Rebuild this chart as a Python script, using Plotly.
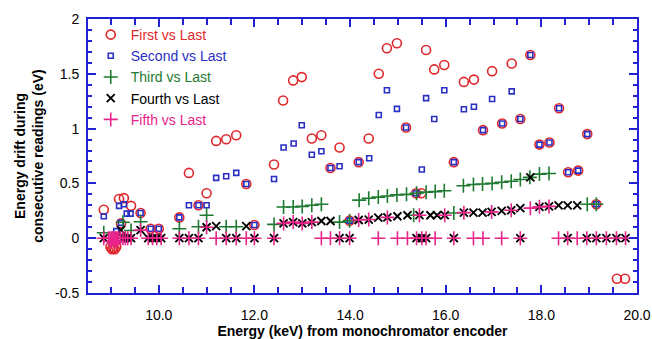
import plotly.graph_objects as go

# ---------------- data ----------------
first_x = [8.85, 8.99, 9.02, 9.05, 9.08, 9.11, 9.17, 9.21, 9.27, 9.42, 9.62, 9.83, 10.0,
           10.43, 10.63, 10.83, 11.0, 11.2, 11.41, 11.62, 11.83, 12.0, 12.41, 12.6, 12.81,
           12.99, 13.2, 13.4, 13.59, 13.78, 13.99, 14.18, 14.39, 14.6, 14.77, 14.98, 15.17,
           15.38, 15.49, 15.59, 15.76, 15.97, 16.17, 16.38, 16.59, 16.78, 16.97, 17.18, 17.38,
           17.56, 17.77, 17.96, 18.17, 18.37, 18.56, 18.77, 18.96, 19.15, 19.58, 19.75]
first_y = [0.26, -0.08, -0.1, -0.09, -0.1, -0.08, 0.357, 0.135, 0.366, 0.295, 0.23, 0.086, 0.086,
           0.19, 0.596, 0.30, 0.41, 0.888, 0.903, 0.94, 0.495, 0.12, 0.673, 1.256, 1.44,
           1.47, 0.91, 0.94, 0.64, 0.827, 0.16, 0.694, 0.91, 1.5, 1.733, 1.779, 1.01,
           0.41, 0.41, 1.717, 1.54, 1.58, 0.694, 1.426, 1.447, 0.986, 1.524, 1.047, 1.594,
           1.087, 1.671, 0.854, 0.873, 1.186, 0.602, 0.617, 0.95, 0.31, -0.37, -0.37]

second_x = [8.85, 9.11, 9.17, 9.21, 9.27, 9.33, 9.41, 9.62, 9.83, 10.0, 10.43, 10.63, 10.83,
            11.0, 11.2, 11.41, 11.62, 11.83, 12.0, 12.41, 12.61, 12.82, 12.99, 13.2, 13.4,
            13.59, 13.78, 13.99, 14.18, 14.4, 14.6, 14.77, 14.98, 15.17, 15.38, 15.5, 15.59,
            15.76, 15.97, 16.17, 16.38, 16.59, 16.78, 16.97, 17.18, 17.38, 17.56, 17.77, 17.96,
            18.17, 18.37, 18.56, 18.77, 18.96, 19.15]
second_y = [0.2, 0.065, 0.295, 0.14, 0.31, 0.224, 0.224, 0.23, 0.086, 0.086, 0.19, 0.30, 0.30,
            0.30, 0.55, 0.565, 0.596, 0.495, 0.12, 0.54, 0.827, 0.864, 1.03, 0.762, 0.793,
            0.64, 0.657, 0.16, 0.694, 0.73, 1.124, 1.35, 1.18, 1.01, 0.41, 0.627, 1.278,
            1.087, 1.35, 0.694, 1.177, 1.2, 0.986, 1.27, 1.047, 1.34, 1.087, 1.671, 0.854,
            0.873, 1.186, 0.602, 0.617, 0.95, 0.31]

third_x = [8.85, 9.25, 9.42, 9.62, 10.43, 10.83, 11.0, 11.41, 11.62, 12.41, 12.61, 12.81,
           13.0, 13.2, 13.4, 13.78, 13.99, 14.19, 14.39, 14.59, 14.78, 14.98, 15.18, 15.33,
           15.39, 15.59, 15.78, 15.97, 16.17, 16.37, 16.58, 16.77, 16.97, 17.17, 17.37,
           17.56, 17.76, 17.96, 18.16, 18.96, 19.15]
third_y = [0.05, 0.145, 0.07, 0.15, 0.086, 0.105, 0.21, 0.105, 0.105, 0.126, 0.285, 0.285,
           0.29, 0.30, 0.31, 0.147, 0.16, 0.347, 0.365, 0.375, 0.385, 0.395, 0.40, 0.21,
           0.41, 0.42, 0.425, 0.433, 0.23, 0.479, 0.49, 0.495, 0.50, 0.51, 0.52,
           0.535, 0.555, 0.585, 0.59, 0.31, 0.31]

fourth_x = [8.85, 9.21, 9.25, 9.3, 9.35, 9.42, 9.62, 9.78, 9.87, 9.96, 10.05, 10.43, 10.63,
            10.83, 11.0, 11.2, 11.41, 11.62, 11.83, 12.0, 12.41, 12.61, 12.81, 13.0, 13.2,
            13.4, 13.59, 13.78, 13.99, 14.18, 14.39, 14.59, 14.78, 14.99, 15.2, 15.39, 15.45,
            15.5, 15.59, 15.68, 15.82, 15.98, 16.17, 16.38, 16.58, 16.77, 16.96, 17.17, 17.37,
            17.56, 17.56, 17.77, 17.96, 18.16, 18.36, 18.55, 18.55, 18.75, 18.95, 19.15,
            19.36, 19.57, 19.76]
fourth_y = [0.0, 0.074, 0.0, 0.0, 0.0, 0.0, 0.074, 0.0, 0.0, 0.0, 0.0, 0.0, 0.0,
            0.0, 0.10, 0.11, 0.0, 0.0, 0.11, 0.0, 0.0, 0.135, 0.147, 0.135, 0.147,
            0.157, 0.157, 0.0, 0.0, 0.166, 0.17, 0.187, 0.19, 0.20, 0.209, 0.0, 0.21,
            0.0, 0.0, 0.209, 0.209, 0.21, 0.0, 0.233, 0.233, 0.233, 0.24, 0.25, 0.255,
            0.274, 0.0, 0.555, 0.286, 0.29, 0.30, 0.30, 0.0, 0.30, 0.0, 0.0,
            0.0, 0.0, 0.0]

fifth_x = [8.85, 8.95, 8.98, 9.0, 9.01, 9.04, 9.06, 9.07, 9.1, 9.12, 9.13, 9.16, 9.2, 9.25,
           9.3, 9.35, 9.42, 9.62, 9.78, 9.87, 9.96, 10.05, 10.43, 10.63, 10.83, 11.0, 11.2,
           11.41, 11.62, 11.83, 12.0, 12.41, 12.61, 12.81, 13.0, 13.2, 13.4, 13.59, 13.78,
           13.99, 14.18, 14.39, 14.59, 14.78, 14.99, 15.2, 15.39, 15.45, 15.5, 15.59, 15.78,
           15.98, 16.17, 16.38, 16.58, 16.78, 16.96, 17.17, 17.37, 17.56, 17.77, 17.96,
           18.16, 18.36, 18.55, 18.75, 18.95, 19.15, 19.36, 19.57, 19.76]
fifth_y = [0.0, 0.0, 0.0, -0.03, 0.0, 0.0, -0.03, 0.0, 0.0, -0.03, 0.0, 0.0, 0.0, 0.0,
           0.0, 0.0, 0.0, 0.074, 0.0, 0.0, 0.0, 0.0, 0.0, 0.0, 0.0, 0.10, 0.0,
           0.0, 0.0, 0.0, 0.0, 0.0, 0.135, 0.147, 0.135, 0.147, 0.0, 0.0, 0.0,
           0.0, 0.166, 0.17, 0.0, 0.19, 0.0, 0.0, 0.0, 0.21, 0.0, 0.0, 0.0,
           0.21, 0.0, 0.233, 0.0, 0.0, 0.24, 0.0, 0.255, 0.0, 0.274, 0.286,
           0.29, 0.0, 0.0, 0.0, 0.0, 0.0, 0.0, 0.0, 0.0]

series_names = ["First vs Last", "Second vs Last", "Third vs Last", "Fourth vs Last", "Fifth vs Last"]
x_tick_vals = [10, 12, 14, 16, 18, 20]
x_tick_text = ["10.0", "12.0", "14.0", "16.0", "18.0", "20.0"]
y_tick_vals = [-0.5, 0, 0.5, 1, 1.5, 2]
y_tick_text = ["-0.5", "0", "0.5", "1", "1.5", "2"]

# ---------------- styling ----------------
RED = "#e0282c"
BLUE = "#2a2fc4"
GREEN = "#1e7a30"
BLACK = "#000000"
PINK = "#e8238a"
AXIS = "#2323d6"
FONT = "Liberation Sans, Arial, Helvetica, sans-serif"

fig = go.Figure()

def add(xs, ys, name, color, symbol, size, width):
    fig.add_trace(go.Scatter(
        x=xs, y=ys, mode="markers",
        name='<span style="color:%s">%s</span>' % (color, name),
        marker=dict(symbol=symbol, size=size, color=color,
                    line=dict(color=color, width=width)),
    ))

add(first_x, first_y, series_names[0], RED, "circle-open", 9, 1.6)
add(second_x, second_y, series_names[1], BLUE, "square-open", 5, 1.6)
add(third_x, third_y, series_names[2], GREEN, "cross-thin-open", 10, 1.6)
add(fourth_x, fourth_y, series_names[3], BLACK, "x-thin-open", 8, 1.9)
add(fifth_x, fifth_y, series_names[4], PINK, "cross-thin-open", 10, 1.6)

axis_common = dict(
    showline=True, linecolor=AXIS, linewidth=2, mirror="ticks",
    ticks="inside", tickcolor=AXIS, tickwidth=1.5,
    showgrid=False, zeroline=False, automargin=False,
    tickfont=dict(family=FONT, size=14, color="#000"),
)

fig.update_xaxes(
    range=[8.52, 20.0], tickvals=x_tick_vals, ticktext=x_tick_text, ticklen=8,
    ticklabelstandoff=8,
    minor=dict(dtick=0.5, tick0=0, ticks="inside", ticklen=6, tickcolor=AXIS, tickwidth=1.5),
    title=dict(text="<b>Energy (keV) from monochromator encoder</b>",
               font=dict(family=FONT, size=14, color="#000"), standoff=0),
    **axis_common)
fig.update_yaxes(
    range=[-0.5, 2.0], tickvals=y_tick_vals, ticktext=y_tick_text, ticklen=8,
    ticklabelstandoff=4,
    minor=dict(dtick=0.1, tick0=0, ticks="inside", ticklen=4, tickcolor=AXIS, tickwidth=1.5),
    title=dict(text="<b>Energy drift during<br>consecutive readings (eV)</b>",
               font=dict(family=FONT, size=14, color="#000"), standoff=8),
    **axis_common)

fig.update_layout(
    width=652, height=339,
    margin=dict(l=88, r=15, t=19, b=46),
    paper_bgcolor="white", plot_bgcolor="white",
    font=dict(family=FONT, size=14, color="#000"),
    legend=dict(x=0.005, y=1.0, xanchor="left", yanchor="top",
                bgcolor="rgba(0,0,0,0)", borderwidth=0,
                font=dict(family=FONT, size=14), itemsizing="trace",
                tracegroupgap=0),
    showlegend=True,
)

fig.write_html("out.html")
